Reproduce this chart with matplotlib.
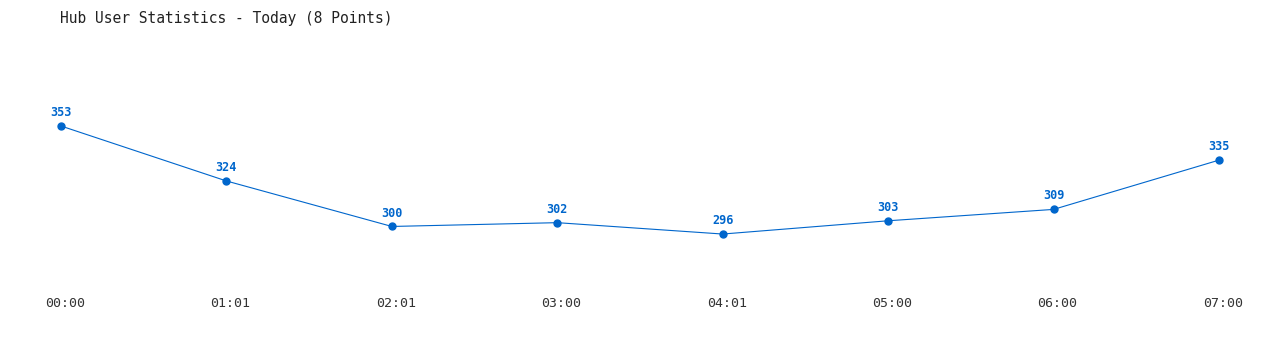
import matplotlib
matplotlib.use("Agg")
import matplotlib.pyplot as plt
import matplotlib.transforms as mtransforms

# Datos del grafico
horas = ["00:00", "01:01", "02:01", "03:00", "04:01", "05:00", "06:00", "07:00"]
usuarios = [353, 324, 300, 302, 296, 303, 309, 335]
titulo = "Hub User Statistics - Today (8 Points)"

AZUL = "#0066cc"
FUENTE = "DejaVu Sans Mono"

fig = plt.figure(figsize=(12.8, 3.5), dpi=100)
# ejes colocados en pixeles: x de 61 a 1219, y de 50 a 300 (desde arriba)
ax = fig.add_axes([61 / 1280, 50 / 350, (1219 - 61) / 1280, 250 / 350])

xs = list(range(len(horas)))
ax.plot(xs, usuarios, color=AZUL, linewidth=0.8, marker="o", markersize=5,
        clip_on=False)

for x, v in zip(xs, usuarios):
    ax.annotate(str(v), (x, v), xytext=(0, 5), textcoords="offset points",
                ha="center", va="bottom", color=AZUL, fontsize=8.5,
                fontweight="bold", family=FUENTE)

ax.set_xlim(0, len(horas) - 1)
ax.set_ylim(261.2, 393.1)
ax.set_xticks(xs)
ax.set_xticklabels(horas, family=FUENTE, fontsize=9.5, color="#333333")
ax.tick_params(axis="x", length=0, pad=-2)
# las etiquetas del eje estan un poco a la derecha de los puntos
desplazamiento = mtransforms.ScaledTranslation(4 / 100, 0, fig.dpi_scale_trans)
for lbl in ax.get_xticklabels():
    lbl.set_transform(lbl.get_transform() + desplazamiento)
ax.set_yticks([])
for s in ax.spines.values():
    s.set_visible(False)

fig.text(60 / 1280, 1 - 18 / 350, titulo, family=FUENTE, fontsize=10.5,
         color="#222222", ha="left", va="center")

fig.savefig("out.png", dpi=100)
